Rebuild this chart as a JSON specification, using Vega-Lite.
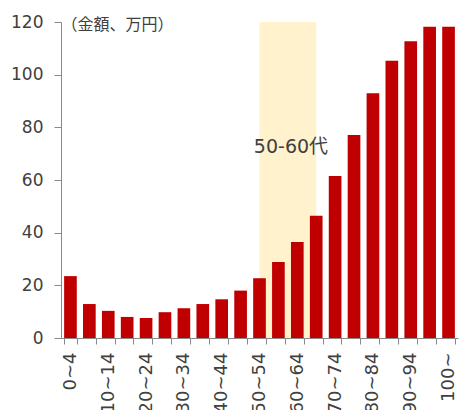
{
  "$schema": "https://vega.github.io/schema/vega-lite/v6.json",
  "width": 397,
  "height": 316,
  "autosize": {"type": "none"},
  "padding": {"left": 61, "top": 22, "right": 3, "bottom": 72},
  "background": "white",
  "datasets": {
    "amount": [
      {"age": "0~4", "value": 23.5},
      {"age": "5~9", "value": 12.9},
      {"age": "10~14", "value": 10.3},
      {"age": "15~19", "value": 8.0},
      {"age": "20~24", "value": 7.6},
      {"age": "25~29", "value": 9.8},
      {"age": "30~34", "value": 11.3},
      {"age": "35~39", "value": 12.9},
      {"age": "40~44", "value": 14.7},
      {"age": "45~49", "value": 18.0},
      {"age": "50~54", "value": 22.7},
      {"age": "55~59", "value": 28.9},
      {"age": "60~64", "value": 36.5},
      {"age": "65~69", "value": 46.4},
      {"age": "70~74", "value": 61.5},
      {"age": "75~79", "value": 77.1},
      {"age": "80~84", "value": 92.9},
      {"age": "85~89", "value": 105.3},
      {"age": "90~94", "value": 112.7},
      {"age": "95~99", "value": 118.2},
      {"age": "100~", "value": 118.2}
    ],
    "span": [{"age": "50~54", "age2": "65~69", "value": 0, "value2": 120}],
    "note": [{"age": "60~64", "label": "50-60代", "value": 72.5}]
  },
  "config": {
    "view": {"stroke": null},
    "axis": {
      "domainColor": "#898989",
      "tickColor": "#898989",
      "labelColor": "#404040",
      "labelFont": "DejaVu Sans",
      "labelFontSize": 17,
      "grid": false
    }
  },
  "layer": [
    {
      "data": {"name": "span"},
      "mark": {"type": "rect", "color": "#FFF2CC"},
      "encoding": {
        "x": {"field": "age", "type": "ordinal", "bandPosition": 0.5},
        "x2": {"field": "age2", "bandPosition": 0.5},
        "y": {"field": "value", "type": "quantitative"},
        "y2": {"field": "value2"}
      }
    },
    {
      "data": {"name": "amount"},
      "mark": {"type": "bar", "color": "#C00000"},
      "encoding": {
        "x": {
          "field": "age",
          "type": "ordinal",
          "sort": null,
          "title": null,
          "scale": {
            "domain": ["0~4", "5~9", "10~14", "15~19", "20~24", "25~29", "30~34", "35~39", "40~44", "45~49", "50~54", "55~59", "60~64", "65~69", "70~74", "75~79", "80~84", "85~89", "90~94", "95~99", "100~"],
            "paddingInner": 0.33,
            "paddingOuter": 0.165
          },
          "axis": {
            "tickBand": "extent",
            "tickSize": 6,
            "labelAngle": -90,
            "labelAlign": "right",
            "labelBaseline": "middle",
            "labelPadding": 8,
            "labelFontSize": 18,
            "labelOverlap": false,
            "labelBound": false,
            "labelExpr": "toNumber(split(datum.value, '~')[0]) % 10 == 0 ? datum.value : ''"
          }
        },
        "y": {
          "field": "value",
          "type": "quantitative",
          "scale": {"domain": [0, 120], "nice": false},
          "title": "（金額、万円）",
          "axis": {
            "values": [0, 20, 40, 60, 80, 100, 120],
            "tickSize": 7,
            "labelPadding": 11,
            "titleAngle": 0,
            "titleAlign": "left",
            "titleBaseline": "middle",
            "titleX": 0,
            "titleY": 2,
            "titleFont": "Noto Sans CJK JP",
            "titleFontSize": 16,
            "titleFontWeight": "normal",
            "titleColor": "#404040"
          }
        }
      }
    },
    {
      "data": {"name": "note"},
      "mark": {"type": "text", "font": "DejaVu Sans, Noto Sans CJK JP", "fontSize": 19, "color": "#404040", "align": "center", "baseline": "middle"},
      "encoding": {
        "x": {"field": "age", "type": "ordinal", "bandPosition": 0},
        "y": {"field": "value", "type": "quantitative"},
        "text": {"field": "label"}
      }
    }
  ]
}
